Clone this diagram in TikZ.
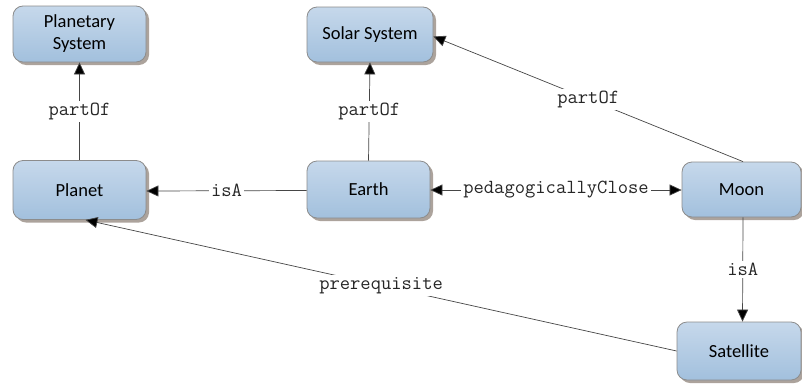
\documentclass[tikz,border=0pt]{standalone}
\usepackage{fontspec}
\setmainfont{Carlito}
\usetikzlibrary{arrows.meta,shadows}

\definecolor{boxtop}{RGB}{198,216,235}
\definecolor{boxbottom}{RGB}{162,192,221}
\definecolor{boxline}{RGB}{140,140,140}
\definecolor{boxshadow}{RGB}{172,163,156}
\definecolor{edgeline}{RGB}{70,70,70}

\tikzset{
  concept/.style={rectangle, rounded corners=10pt, draw=boxline, line width=0.8pt,
    top color=boxtop, bottom color=boxbottom,
    drop shadow={shadow xshift=3pt, shadow yshift=-3pt, fill=boxshadow, opacity=1},
    align=center, inner sep=0pt, font=\fontsize{18.5}{22}\selectfont, text=black},
  relation/.style={draw=edgeline, line width=0.7pt,
    -{Triangle[length=12pt,width=11pt,fill=black]}},
  biarrow/.style={draw=edgeline, line width=0.7pt,
    {Triangle[length=12pt,width=11pt,fill=black]}-{Triangle[length=12pt,width=11pt,fill=black]}},
  rellabel/.style={fill=white, inner sep=2pt, text=black!85,
    font=\ttfamily\fontsize{20}{22}\selectfont}
}

\begin{document}
\begin{tikzpicture}[x=1pt, y=-1pt]
  \useasboundingbox (0,0) rectangle (802,383);

  % concepts
  \node[concept, minimum width=133pt, minimum height=56pt] (psys) at (79.5,34) {Planetary\\System};
  \node[concept, minimum width=126pt, minimum height=55pt] (ssys) at (370,34.5) {Solar System};
  \node[concept, minimum width=133pt, minimum height=59pt] (planet) at (79.5,190) {Planet};
  \node[concept, minimum width=123pt, minimum height=57pt] (earth) at (368.5,189.5) {Earth};
  \node[concept, minimum width=119pt, minimum height=55pt] (moon) at (741.5,189.5) {Moon};
  \node[concept, minimum width=124pt, minimum height=58pt] (sat) at (739,351) {Satellite};

  % relations
  \draw[relation] (planet.north) -- node[rellabel] {partOf} (psys.south);
  \draw[relation] (earth.north) -- node[rellabel] {partOf} (ssys.south);
  \draw[relation] ([xshift=1.5pt]moon.north) -- node[rellabel] {partOf} ([yshift=-2pt]ssys.east);
  \draw[relation] ([yshift=-1pt]earth.west) -- node[rellabel] {isA} ([yshift=-1pt]planet.east);
  \draw[biarrow] ([yshift=-0.5pt]earth.east) -- node[rellabel] {pedagogicallyClose} ([yshift=-0.5pt]moon.west);
  \draw[relation] ([xshift=1.5pt]moon.south) -- node[rellabel] {isA} ([xshift=3.5pt]sat.north);
  \draw[relation] (sat.west) -- node[rellabel] {prerequisite} ([xshift=6pt]planet.south);
\end{tikzpicture}
\end{document}
